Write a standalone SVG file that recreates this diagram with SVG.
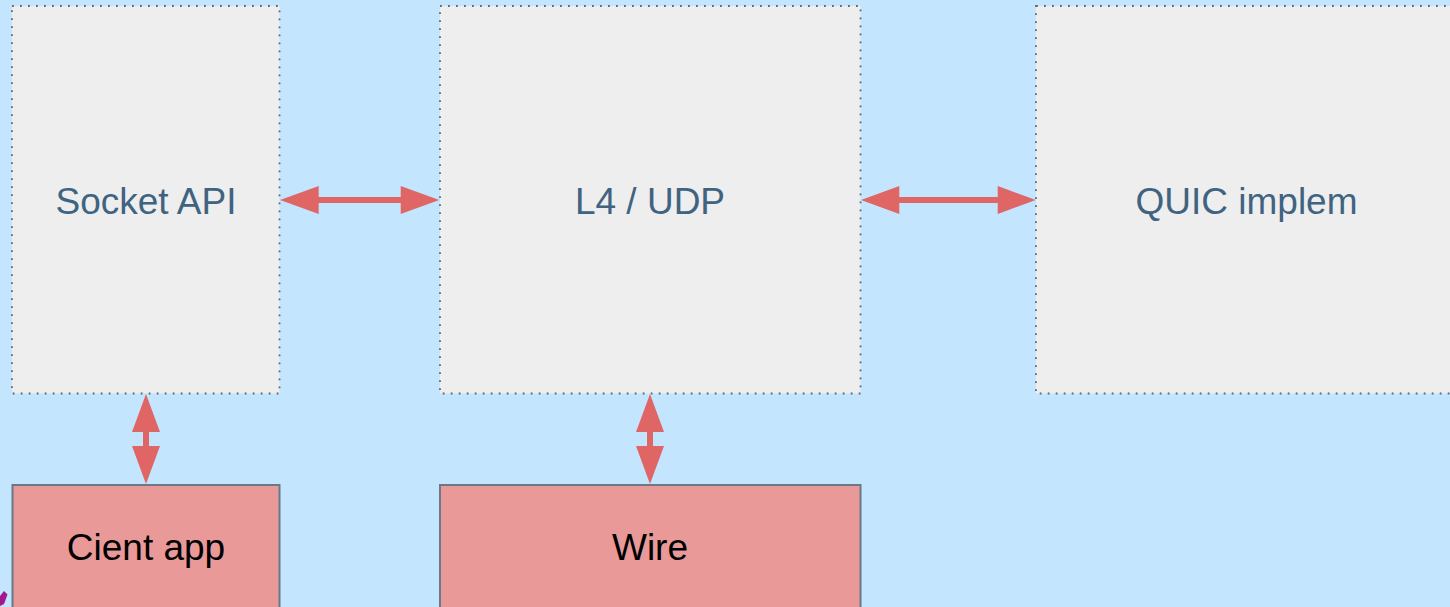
<svg xmlns="http://www.w3.org/2000/svg" width="1450" height="607" viewBox="0 0 1450 607">
<style>
.layer rect{fill:#eeeeee;stroke:#56697a;stroke-width:1.8;stroke-dasharray:1.8 6.2}
.layer text{font-family:"Liberation Sans",Arial,sans-serif;font-size:37px;fill:#3f6381;text-anchor:middle}
.ext rect{fill:#ea9999;stroke:#687a88;stroke-width:2}
.ext text{font-family:"Liberation Sans",Arial,sans-serif;font-size:37px;fill:#000;text-anchor:middle}
.arr{fill:#e06666}
</style>
<rect width="1450" height="607" fill="#c3e5fd"/>
<g id="socket-api" class="layer"><rect x="12" y="6" width="267.5" height="387.5"/><text x="146" y="214">Socket API</text></g>
<g id="l4-udp" class="layer"><rect x="440" y="6" width="420.5" height="387.5"/><text x="650" y="214">L4 / UDP</text></g>
<g id="quic-implem" class="layer"><rect x="1036" y="6" width="421" height="387.5"/><text x="1246.5" y="214">QUIC implem</text></g>
<g id="client-app" class="ext"><rect x="12.5" y="485" width="267" height="130"/><text x="146" y="560">Cient app</text></g>
<g id="wire" class="ext"><rect x="440" y="485" width="420.5" height="130"/><text x="650" y="560">Wire</text></g>
<g id="connectors" class="arr">
<polygon points="280,200 318.7,186 318.7,197 400.7,197 400.7,186 439.3,200 400.7,214 400.7,203 318.7,203 318.7,214"/>
<polygon points="861,200 899.3,186 899.3,197 997.7,197 997.7,186 1035.7,200 997.7,214 997.7,203 899.3,203 899.3,214"/>
<polygon points="146,394 160,432 149,432 149,446 160,446 146,484 132,446 143,446 143,432 132,432"/>
<polygon points="650,394 664,432 653,432 653,446 664,446 650,484 636,446 647,446 647,432 636,432"/>
</g>
<polygon points="0,596 4,591 7.5,594.5 4,604 0,606" fill="#a3178f"/>
</svg>
